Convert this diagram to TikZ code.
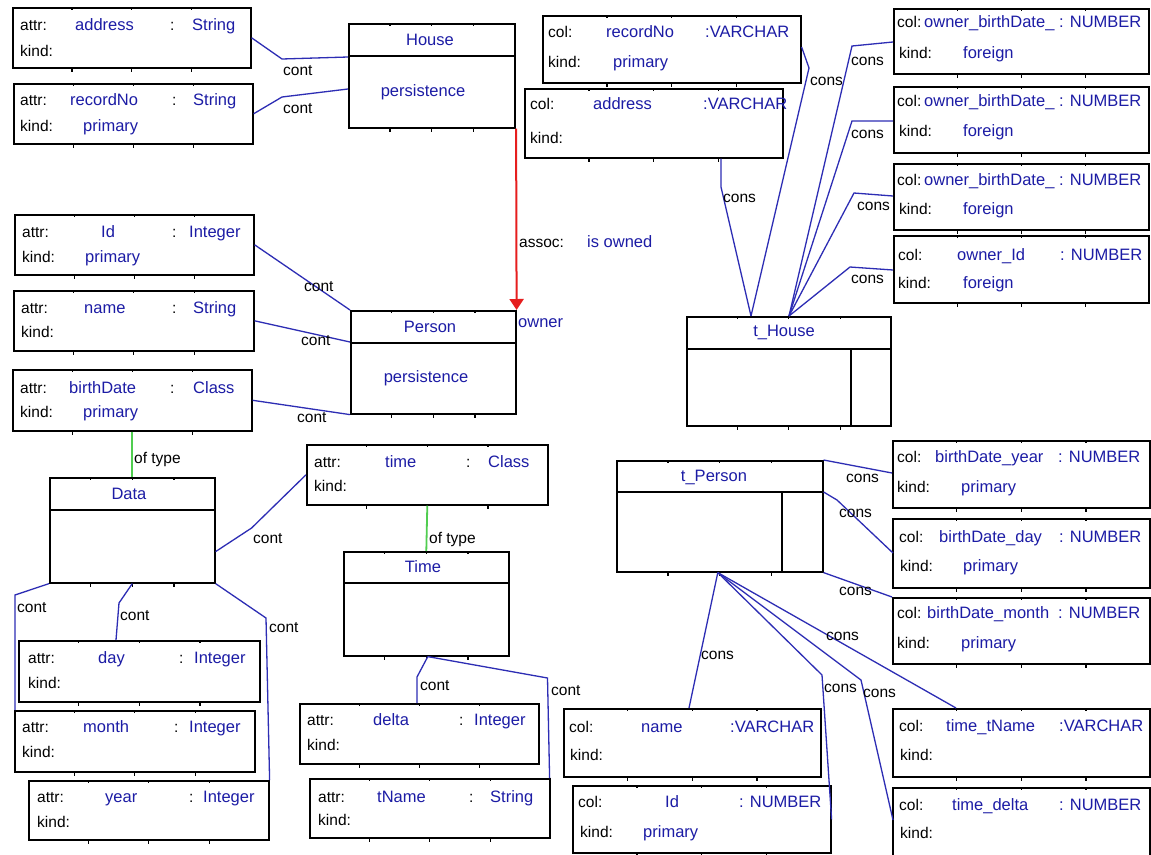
\documentclass[tikz,border=0pt]{standalone}
\usepackage{fontspec}
\setmainfont{Liberation Sans}
\usetikzlibrary{calc,arrows.meta}
\definecolor{tblue}{RGB}{28,28,165}
\definecolor{cblue}{RGB}{45,45,180}
\definecolor{cgreen}{RGB}{80,205,80}
\definecolor{cred}{RGB}{230,30,30}
\newcommand{\fsb}{\fontsize{15.5}{18}\selectfont}
\newcommand{\fsv}{\fontsize{16.5}{19}\selectfont}
\tikzset{
  boxsty/.style={draw=black, line width=1.6pt, inner sep=0pt, rectangle},
  tk/.style={draw=black, line width=1.2pt},
  divl/.style={draw=black, line width=1.6pt},
  lab/.style={font=\fsb, text=black, inner sep=0pt, anchor=west, text height=10pt, text depth=0pt},
  val/.style={font=\fsv, text=tblue, inner sep=0pt, anchor=west, text height=10pt, text depth=0pt},
  ttl/.style={font=\fsv, text=tblue, inner sep=0pt, anchor=center, text height=10pt, text depth=0pt},
  conn/.style={draw=cblue, line width=1.3pt},
  oftype/.style={draw=cgreen, line width=1.8pt},
  assocl/.style={draw=cred, color=cred, line width=2pt, -{Triangle[length=11pt,width=14pt]}},
}
\newcommand{\mkbox}[5]{%
  \node[boxsty, anchor=north west, minimum width={(#4)-(#2)}, minimum height={(#5)-(#3)}] (#1) at (#2,#3) {};
  \foreach \fr in {0.25,0.5,0.75}{
    \draw[tk] ($(#1.north west)!\fr!(#1.north east)$) -- ++(0,3);
    \draw[tk] ($(#1.south west)!\fr!(#1.south east)$) -- ++(0,3);}
}
\newcommand{\tx}[5]{\node[#1] (#2) at (#3,#4) {#5};}
\begin{document}
\begin{tikzpicture}[x=1pt,y=-1pt]
\useasboundingbox (0,0) rectangle (1151,854);
\fill[white] (0,0) rectangle (1151,854);

% ---------- boxes ----------
\mkbox{aAddr}{12}{7}{250}{67}
\mkbox{aRec}{13}{83}{252}{143}
\mkbox{House}{348}{23}{514}{127}
\mkbox{aId}{14}{214}{253}{274}
\mkbox{aName}{13}{290}{253}{350}
\mkbox{aBirth}{12}{369}{251}{430}
\mkbox{Person}{350}{310}{515}{413}
\mkbox{Data}{49}{477}{214}{582}
\mkbox{aTime}{306}{444}{547}{504}
\mkbox{Time}{343}{551}{508}{655}
\mkbox{aDay}{18}{640}{259}{701}
\mkbox{aMonth}{14}{710}{254}{771}
\mkbox{aYear}{28}{780}{268}{839}
\mkbox{aDelta}{299}{703}{538}{763}
\mkbox{aTName}{309}{778}{549}{837}
\mkbox{cRec}{542}{15}{800}{82}
\mkbox{cAddr}{524}{88}{782}{157}
\mkbox{oA}{893}{8}{1148}{73}
\mkbox{oB}{893}{86}{1148}{152}
\mkbox{oC}{893}{163}{1148}{229}
\mkbox{oD}{893}{235}{1148}{302}
\mkbox{tHouse}{686}{316}{890}{425}
\mkbox{tPerson}{616}{460}{822}{571}
\mkbox{cBY}{892}{440}{1149}{507}
\mkbox{cBD}{892}{518}{1149}{587}
\mkbox{cBM}{892}{597}{1149}{663}
\mkbox{cName}{563}{708}{820}{776}
\mkbox{cId}{572}{785}{830}{852}
\mkbox{cTN}{892}{708}{1149}{776}
\mkbox{cTD}{892}{787}{1149}{860}

% ---------- dividers ----------
\draw[divl] ($(House.north west)+(0,33)$) -- ($(House.north east)+(0,33)$);
\draw[divl] ($(Person.north west)+(0,33)$) -- ($(Person.north east)+(0,33)$);
\draw[divl] ($(Data.north west)+(0,33)$) -- ($(Data.north east)+(0,33)$);
\draw[divl] ($(Time.north west)+(0,32)$) -- ($(Time.north east)+(0,32)$);
\draw[divl] ($(tHouse.north west)+(0,33)$) -- ($(tHouse.north east)+(0,33)$);
\draw[divl] ($(tHouse.north west)+(165,33)$) -- ($(tHouse.south west)+(165,0)$);
\draw[divl] ($(tPerson.north west)+(0,32)$) -- ($(tPerson.north east)+(0,32)$);
\draw[divl] ($(tPerson.north west)+(166,32)$) -- ($(tPerson.south west)+(166,0)$);

% ---------- titles ----------
\tx{ttl}{tHo}{430}{40}{House}
\tx{ttl}{pHo}{423}{91}{persistence}
\tx{ttl}{tPe}{430}{327}{Person}
\tx{ttl}{pPe}{426}{377}{persistence}
\tx{ttl}{tDa}{129}{494}{Data}
\tx{ttl}{tTi}{423}{567}{Time}
\tx{ttl}{tTH}{784}{331}{t\_House}
\tx{ttl}{tTP}{714}{476}{t\_Person}

% ---------- attribute boxes ----------
\tx{lab}{a1}{20}{25}{attr:} \tx{val}{a2}{75}{25}{address} \tx{lab}{a3}{170}{25}{:} \tx{val}{a4}{192}{25}{String} \tx{lab}{a5}{20}{51}{kind:}
\tx{lab}{b1}{20}{100}{attr:} \tx{val}{b2}{70}{100}{recordNo} \tx{lab}{b3}{172}{100}{:} \tx{val}{b4}{193}{100}{String} \tx{lab}{b5}{20}{126}{kind:} \tx{val}{b6}{83}{126}{primary}
\tx{lab}{c1}{22}{232}{attr:} \tx{val}{c2}{101}{232}{Id} \tx{lab}{c3}{172}{232}{:} \tx{val}{c4}{189}{232}{Integer} \tx{lab}{c5}{22}{257}{kind:} \tx{val}{c6}{85}{257}{primary}
\tx{lab}{d1}{21}{308}{attr:} \tx{val}{d2}{84}{308}{name} \tx{lab}{d3}{172}{308}{:} \tx{val}{d4}{193}{308}{String} \tx{lab}{d5}{21}{332}{kind:}
\tx{lab}{e1}{20}{388}{attr:} \tx{val}{e2}{69}{388}{birthDate} \tx{lab}{e3}{170}{388}{:} \tx{val}{e4}{193}{388}{Class} \tx{lab}{e5}{20}{412}{kind:} \tx{val}{e6}{83}{412}{primary}
\tx{lab}{f1}{314}{462}{attr:} \tx{val}{f2}{385}{462}{time} \tx{lab}{f3}{466}{462}{:} \tx{val}{f4}{488}{462}{Class} \tx{lab}{f5}{314}{486}{kind:}
\tx{lab}{g1}{28}{658}{attr:} \tx{val}{g2}{98}{658}{day} \tx{lab}{g3}{179}{658}{:} \tx{val}{g4}{194}{658}{Integer} \tx{lab}{g5}{28}{683}{kind:}
\tx{lab}{h1}{22}{727}{attr:} \tx{val}{h2}{83}{727}{month} \tx{lab}{h3}{174}{727}{:} \tx{val}{h4}{189}{727}{Integer} \tx{lab}{h5}{22}{752}{kind:}
\tx{lab}{i1}{37}{797}{attr:} \tx{val}{i2}{105}{797}{year} \tx{lab}{i3}{189}{797}{:} \tx{val}{i4}{203}{797}{Integer} \tx{lab}{i5}{37}{822}{kind:}
\tx{lab}{j1}{307}{720}{attr:} \tx{val}{j2}{373}{720}{delta} \tx{lab}{j3}{459}{720}{:} \tx{val}{j4}{474}{720}{Integer} \tx{lab}{j5}{307}{745}{kind:}
\tx{lab}{k1}{318}{797}{attr:} \tx{val}{k2}{377}{797}{tName} \tx{lab}{k3}{469}{797}{:} \tx{val}{k4}{490}{797}{String} \tx{lab}{k5}{318}{820}{kind:}

% ---------- column boxes ----------
\tx{lab}{l1}{548}{32}{col:} \tx{val}{l2}{606}{32}{recordNo} \tx{val}{l3}{705}{32}{:VARCHAR} \tx{lab}{l4}{548}{62}{kind:} \tx{val}{l5}{613}{62}{primary}
\tx{lab}{m1}{530}{104}{col:} \tx{val}{m2}{593}{104}{address} \tx{val}{m3}{703}{104}{:VARCHAR} \tx{lab}{m4}{530}{138}{kind:}
\tx{lab}{n1}{897}{22}{col:} \tx{val}{n2}{924}{22}{owner\_birthDate\_} \tx{val}{n3}{1059}{22}{: NUMBER} \tx{lab}{n4}{899}{53}{kind:} \tx{val}{n5}{963}{53}{foreign}
\tx{lab}{o1}{897}{101}{col:} \tx{val}{o2}{924}{101}{owner\_birthDate\_} \tx{val}{o3}{1059}{101}{: NUMBER} \tx{lab}{o4}{899}{131}{kind:} \tx{val}{o5}{963}{131}{foreign}
\tx{lab}{p1}{897}{180}{col:} \tx{val}{p2}{924}{180}{owner\_birthDate\_} \tx{val}{p3}{1059}{180}{: NUMBER} \tx{lab}{p4}{899}{209}{kind:} \tx{val}{p5}{963}{209}{foreign}
\tx{lab}{q1}{898}{255}{col:} \tx{val}{q2}{957}{255}{owner\_Id} \tx{val}{q3}{1060}{255}{: NUMBER} \tx{lab}{q4}{898}{283}{kind:} \tx{val}{q5}{963}{283}{foreign}
\tx{lab}{r1}{897}{457}{col:} \tx{val}{r2}{935}{457}{birthDate\_year} \tx{val}{r3}{1058}{457}{: NUMBER} \tx{lab}{r4}{897}{487}{kind:} \tx{val}{r5}{961}{487}{primary}
\tx{lab}{s1}{899}{537}{col:} \tx{val}{s2}{939}{537}{birthDate\_day} \tx{val}{s3}{1059}{537}{: NUMBER} \tx{lab}{s4}{900}{566}{kind:} \tx{val}{s5}{963}{566}{primary}
\tx{lab}{u1}{897}{613}{col:} \tx{val}{u2}{927}{613}{birthDate\_month} \tx{val}{u3}{1058}{613}{: NUMBER} \tx{lab}{u4}{897}{643}{kind:} \tx{val}{u5}{961}{643}{primary}
\tx{lab}{v1}{899}{726}{col:} \tx{val}{v2}{946}{726}{time\_tName} \tx{val}{v3}{1059}{726}{:VARCHAR} \tx{lab}{v4}{900}{755}{kind:}
\tx{lab}{w1}{899}{805}{col:} \tx{val}{w2}{952}{805}{time\_delta} \tx{val}{w3}{1059}{805}{: NUMBER} \tx{lab}{w4}{900}{833}{kind:}
\tx{lab}{x1}{569}{727}{col:} \tx{val}{x2}{641}{727}{name} \tx{val}{x3}{730}{727}{:VARCHAR} \tx{lab}{x4}{570}{755}{kind:}
\tx{lab}{y1}{578}{802}{col:} \tx{val}{y2}{665}{802}{Id} \tx{val}{y3}{739}{802}{: NUMBER} \tx{lab}{y4}{580}{832}{kind:} \tx{val}{y5}{643}{832}{primary}

% ---------- cont connectors ----------
\draw[conn] (aAddr.east) -- (282,59) -- ($(House.north west)+(0,34)$);
\tx{lab}{L1}{283}{70}{cont}
\draw[conn] (aRec.east) -- (282,97) -- ($(House.north west)+(0,66)$);
\tx{lab}{L2}{283}{108}{cont}
\draw[conn] (aId.east) -- (Person.north west);
\tx{lab}{L3}{304}{286}{cont}
\draw[conn] (aName.east) -- ($(Person.north west)+(0,32)$);
\tx{lab}{L4}{301}{340}{cont}
\draw[conn] (aBirth.east) -- (Person.south west);
\tx{lab}{L5}{297}{417}{cont}
\draw[conn] ($(Data.south east)+(0,-32)$) -- (251.6,528) -- (aTime.west);
\tx{lab}{L6}{253}{538}{cont}
\draw[conn] (Data.south) -- (119,603) -- ($(aDay.north west)+(98,0)$);
\tx{lab}{L7}{120}{615}{cont}
\draw[conn] (Data.south west) -- (15,595) -- ($(aMonth.north west)+(1,0)$);
\tx{lab}{L8}{17}{607}{cont}
\draw[conn] (Data.south east) -- (266,618) -- (aYear.north east);
\tx{lab}{L9}{269}{627}{cont}
\coordinate (tb) at ($(Time.south)+(1.5,0)$);
\draw[conn] (tb) -- (417,677) -- ($(aDelta.north west)+(118,0)$);
\tx{lab}{L10}{420}{685}{cont}
\draw[conn] (tb) -- (547.5,678) -- ($(aTName.north east)+(-1,0)$);
\tx{lab}{L11}{551}{690}{cont}

% ---------- of type ----------
\draw[oftype] (aBirth.south) -- (Data.north);
\tx{lab}{L12}{134}{458}{of type}
\draw[oftype] (aTime.south) -- (Time.north);
\tx{lab}{L13}{429}{538}{of type}

% ---------- association ----------
\draw[assocl] ($(House.south east)+(0.5,0)$) -- ($(Person.north east)+(0,0)$);
\tx{lab}{L14}{519}{242}{assoc:}
\tx{val}{L15}{587}{242}{is owned}
\tx{val}{L16}{518}{322}{owner}

% ---------- cons connectors (t_House) ----------
\coordinate (th1) at ($(tHouse.north west)+(65,0)$);
\coordinate (th2) at ($(tHouse.north west)+(103,0)$);
\draw[conn] ($(cRec.north east)+(0,32)$) -- (809,68) -- (th1);
\tx{lab}{L17}{810}{80}{cons}
\draw[conn] ($(cAddr.south west)+(197,0)$) -- (721,187) -- (th1);
\tx{lab}{L18}{723}{197}{cons}
\draw[conn] ($(oA.north west)+(0,34)$) -- (852,46) -- (th2);
\tx{lab}{L19}{851}{60}{cons}
\draw[conn] ($(oB.north west)+(0,35)$) -- (852,121) -- (th2);
\tx{lab}{L20}{851}{133}{cons}
\draw[conn] ($(oC.north west)+(0,33)$) -- (854,193) -- (th2);
\tx{lab}{L21}{857}{205}{cons}
\draw[conn] ($(oD.north west)+(0,35)$) -- (850,267) -- (th2);
\tx{lab}{L22}{851}{278}{cons}

% ---------- cons connectors (t_Person) ----------
\draw[conn] (tPerson.north east) -- ($(cBY.north west)+(0,33)$);
\tx{lab}{L23}{846}{477}{cons}
\draw[conn] ($(tPerson.north east)+(0,32)$) -- (837,500) -- ($(cBD.north west)+(1,35)$);
\tx{lab}{L24}{839}{512}{cons}
\draw[conn] (tPerson.south east) -- (cBM.north west);
\tx{lab}{L25}{839}{590}{cons}
\coordinate (tp) at ($(tPerson.south)+(-2,0)$);
\draw[conn] (tp) -- ($(cName.north west)+(126,0)$);
\tx{lab}{L26}{701}{654}{cons}
\draw[conn] (tp) -- (822,675) -- (cId.east);
\tx{lab}{L27}{824}{687}{cons}
\draw[conn] (tp) -- (861,680) -- ($(cTD.north west)+(1,33)$);
\tx{lab}{L28}{863}{692}{cons}
\draw[conn] (tp) -- ($(cTN.north west)+(64,0)$);
\tx{lab}{L29}{826}{635}{cons}
\end{tikzpicture}
\end{document}
